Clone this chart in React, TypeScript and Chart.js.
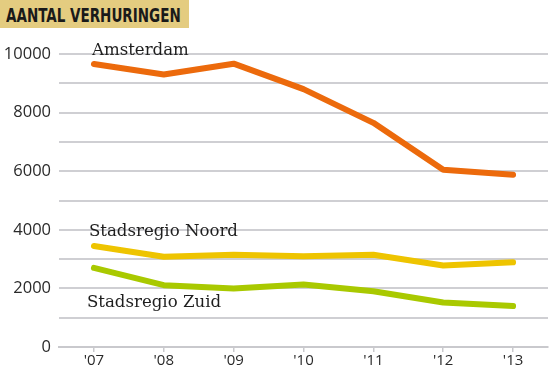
import React, { useEffect, useRef } from "react";
import { Chart, registerables } from "chart.js";

Chart.register(...registerables);

const years = ["'07", "'08", "'09", "'10", "'11", "'12", "'13"];
const amsterdam = [9660, 9300, 9670, 8800, 7650, 6050, 5880];
const noord = [3450, 3080, 3150, 3100, 3150, 2780, 2890];
const zuid = [2700, 2110, 2000, 2130, 1900, 1520, 1400];
const yTicks = [0, 2000, 4000, 6000, 8000, 10000];

const seriesNames = ["Amsterdam", "Stadsregio Noord", "Stadsregio Zuid"];
// value on the y axis where each name's baseline sits
const labelAnchors = [9950, 3790, 1370];
const labelShift = [2, 5, 7];

const labelPlugin = {
  id: "seriesLabels",
  afterDatasetsDraw(chart: any) {
    const { ctx, scales } = chart;
    const x0 = scales.x.getPixelForValue(0);
    ctx.save();
    ctx.font = '16.6px "DejaVu Serif", serif';
    ctx.fillStyle = "#1e1e1e";
    ctx.textBaseline = "alphabetic";
    ctx.textAlign = "left";
    seriesNames.forEach((name, i) => {
      ctx.fillText(name, x0 - labelShift[i], scales.y.getPixelForValue(labelAnchors[i]));
    });
    ctx.restore();
  },
};

export default function App() {
  const ref = useRef<HTMLCanvasElement>(null);
  useEffect(() => {
    if (!ref.current) return;
    const lineStyle = {
      borderWidth: 6,
      pointRadius: 0,
      tension: 0,
      borderCapStyle: "round" as const,
      borderJoinStyle: "round" as const,
      fill: false,
    };
    const chart = new Chart(ref.current, {
      type: "line",
      data: {
        labels: years,
        datasets: [
          { label: seriesNames[0], data: amsterdam, borderColor: "#ec6a0c", ...lineStyle },
          { label: seriesNames[1], data: noord, borderColor: "#eec400", ...lineStyle },
          { label: seriesNames[2], data: zuid, borderColor: "#a9c900", ...lineStyle },
        ],
      },
      options: {
        responsive: true,
        maintainAspectRatio: false,
        animation: false,
        layout: { padding: { top: 54, right: 2, left: 0, bottom: 0 } },
        plugins: { legend: { display: false }, tooltip: { enabled: false }, title: { display: false } },
        scales: {
          x: {
            offset: true,
            grid: {
              drawOnChartArea: false,
              drawTicks: true,
              tickLength: 5,
              color: "#c9c9cd",
              lineWidth: 1.5,
            },
            border: { display: true, color: "#c9c9cd", width: 2 },
            ticks: {
              color: "#2a2a2a",
              font: { family: '"Open Sans", sans-serif', size: 15 },
              padding: 0,
            },
            afterFit(scale: any) {
              scale.height = 25;
            },
          },
          y: {
            min: 0,
            max: 10000,
            grid: { color: "#cfcfd3", lineWidth: 2, drawTicks: false },
            border: { display: false },
            ticks: {
              stepSize: 1000,
              padding: 8,
              color: "#2a2a2a",
              font: { family: '"Open Sans", sans-serif', size: 16.5 },
              callback: (v: any) => (yTicks.includes(Number(v)) ? String(v) : ""),
            },
            afterFit(scale: any) {
              scale.width = 59;
            },
          },
        },
      },
      plugins: [labelPlugin],
    });
    return () => chart.destroy();
  }, []);

  return (
    <div
      style={{
        position: "fixed",
        left: 0,
        top: 0,
        width: 550,
        height: 372,
        background: "#ffffff",
      }}
    >
      <canvas ref={ref} />
      <div
        style={{
          position: "absolute",
          left: 0,
          top: 0,
          width: 189,
          height: 28,
          background: "#e4cc80",
          overflow: "hidden",
        }}
      >
        <span
          style={{
            position: "absolute",
            left: 6,
            top: 0,
            display: "inline-block",
            color: "#1a1a1a",
            fontFamily: '"DejaVu Sans Condensed", "Liberation Sans Narrow", sans-serif',
            fontWeight: 600,
            fontSize: 19,
            lineHeight: "30px",
            whiteSpace: "nowrap",
            transform: "scaleX(0.79)",
            transformOrigin: "left center",
          }}
        >
          AANTAL VERHURINGEN
        </span>
      </div>
    </div>
  );
}
